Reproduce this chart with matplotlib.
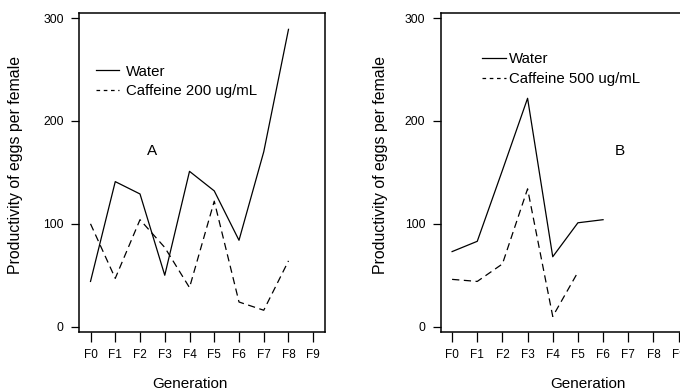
import matplotlib
matplotlib.use("Agg")
import matplotlib.pyplot as plt
from matplotlib.lines import Line2D

plt.rcParams['font.family'] = ['Liberation Sans', 'DejaVu Sans']

generations = ["F0", "F1", "F2", "F3", "F4", "F5", "F6", "F7", "F8", "F9"]
y_ticks = [0, 100, 200, 300]

water_A = [44, 141, 129, 50, 151, 132, 84, 170, 289]
caffeine_200 = [100, 47, 104, 77, 38, 122, 24, 16, 64]

water_B = [73, 83, 152, 222, 68, 101, 104]
caffeine_500 = [46, 44, 61, 134, 10, 53]

W, H = 680, 389
fig = plt.figure(figsize=(W / 100, H / 100), dpi=100)

def px_rect(x0, y0, x1, y1):
    return [x0 / W, 1 - y1 / H, (x1 - x0) / W, (y1 - y0) / H]

ax_a = fig.add_axes(px_rect(79.3, 13.3, 325, 332))
ax_b = fig.add_axes(px_rect(440.7, 13.3, 690.5, 332))

DATA_DASH = (5.8, 3.6)
LEG_DASH = (2.9, 2.9)

def style(ax, water, caff, caff_label, letter, letter_xy, leg_anchor, textpad):
    xw = list(range(len(water)))
    xc = list(range(len(caff)))
    ax.plot(xw, water, color='black', lw=0.9)
    ax.plot(xc, caff, color='black', lw=0.9, linestyle=(0, DATA_DASH))
    ax.set_xlim(-0.453, 9.475)
    ax.set_ylim(-5.15, 304.6)
    ax.set_xticks(range(len(generations)))
    ax.set_xticklabels(generations, fontsize=8.5)
    ax.set_yticks(y_ticks)
    ax.set_yticklabels([str(v) for v in y_ticks], fontsize=8.7)
    ax.tick_params(axis='x', direction='out', length=7.4, width=0.9, pad=5.0)
    ax.tick_params(axis='y', direction='out', length=5.8, width=0.9, pad=5.4)
    for s in ax.spines.values():
        s.set_linewidth(1.1)
    handles = [Line2D([], [], color='black', lw=0.9),
               Line2D([], [], color='black', lw=0.9, linestyle=(0, LEG_DASH))]
    ax.legend(handles, ["Water", caff_label], loc='upper left',
              bbox_to_anchor=(leg_anchor[0] / W, 1 - leg_anchor[1] / H),
              bbox_transform=fig.transFigure, frameon=False, borderpad=0,
              borderaxespad=0, handlelength=1.55, handletextpad=textpad,
              labelspacing=0.39, fontsize=10.8)
    fig.text(letter_xy[0] / W, 1 - letter_xy[1] / H, letter, fontsize=11,
             ha='center', va='center')

style(ax_a, water_A, caffeine_200, "Caffeine 200 ug/mL", "A", (152, 150.7),
      (95.7, 64.5), 0.47)
style(ax_b, water_B, caffeine_500, "Caffeine 500 ug/mL", "B", (620.3, 150.7),
      (482.3, 52.0), 0.25)

for cx in (190, 587.5):
    fig.text(cx / W, 1 - 387.5 / H, "Generation", fontsize=11,
             ha='center', va='baseline')
for cx in (16, 380):
    fig.text(cx / W, 1 - 164.5 / H, "Productivity of eggs per female",
             fontsize=11.4, rotation=90, ha='center', va='center')

fig.savefig("out.png", dpi=100)
